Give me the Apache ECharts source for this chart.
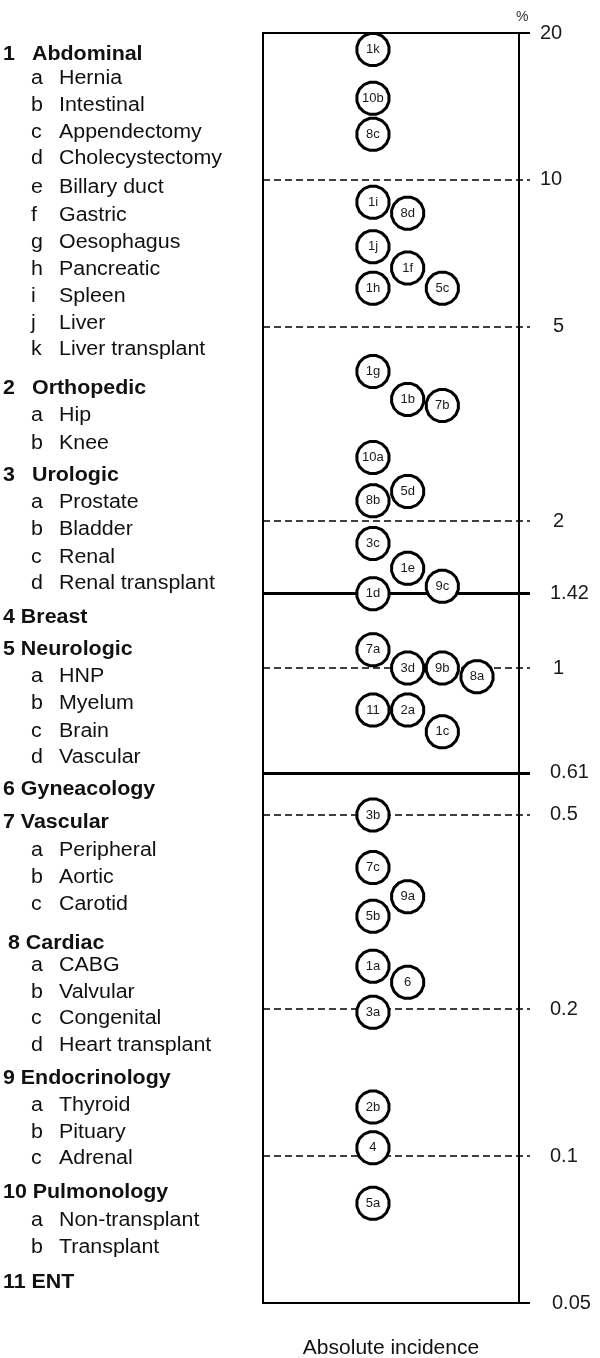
<!DOCTYPE html>
<html><head><meta charset="utf-8">
<script src="https://cdn.jsdelivr.net/npm/echarts@6/dist/echarts.min.js"></script>
<style>html,body{margin:0;padding:0;background:#fff}#c{width:600px;height:1358px}</style>
</head><body><div id="c"></div>
<script>
// ---- data ----
const markerLabels = ['1k','10b','8c','1i','8d','1j','1f','1h','5c','1g','1b','7b','10a','5d','8b','3c','1e','9c','1d','7a','3d','9b','8a','11','2a','1c','3b','7c','9a','5b','1a','6','3a','2b','4','5a'];
const markerValues = [18.5,14.7,12.4,9.0,8.55,7.3,6.6,6.0,6.0,4.05,3.55,3.45,2.7,2.3,2.2,1.8,1.6,1.47,1.42,1.09,1.0,1.0,0.96,0.82,0.82,0.74,0.5,0.39,0.34,0.31,0.245,0.227,0.197,0.126,0.104,0.080];
const markerColumns = [0,0,0,0,1,0,1,0,2,0,1,2,0,1,0,0,1,2,0,0,1,2,3,0,1,2,0,0,1,0,0,1,0,0,0,0];
const tickValues = [20,10,5,2,1.42,1,0.61,0.5,0.2,0.1,0.05];
const tickLabels = ['20','10','5','2','1.42','1','0.61','0.5','0.2','0.1','0.05'];
const groupNames = ['Abdominal','Orthopedic','Urologic','Breast','Neurologic','Gyneacology','Vascular','Cardiac','Endocrinology','Pulmonology','ENT'];
const groupItems = [
  ['Hernia','Intestinal','Appendectomy','Cholecystectomy','Billary duct','Gastric','Oesophagus','Pancreatic','Spleen','Liver','Liver transplant'],
  ['Hip','Knee'],
  ['Prostate','Bladder','Renal','Renal transplant'],
  [],
  ['HNP','Myelum','Brain','Vascular'],
  [],
  ['Peripheral','Aortic','Carotid'],
  ['CABG','Valvular','Congenital','Heart transplant'],
  ['Thyroid','Pituary','Adrenal'],
  ['Non-transplant','Transplant'],
  []
];

// ---- layout / styles (not data) ----
const rowY = [54,78,105,132,158,187,215,242,269,296,323,349, 388,415,443, 475,502,529,557,583, 617, 649,676,703,731,757, 789, 822,850,877,904, 943,965,992,1018,1045, 1078,1105,1132,1158, 1192,1220,1247, 1282];
const tickKind = ['edge','dash','dash','dash','solid','dash','solid','dash','dash','dash','edge'];
const tickLabelGap = [10,10,23,23,20,23,20,20,20,20,22];

const FONT = '"Liberation Sans", Arial, sans-serif';
const TXT = '#111';
const SX = 1.07;

// left list as graphic text
const graphics = [];
let r = 0;
groupNames.forEach((name, gi) => {
  const y = rowY[r++];
  const num = String(gi + 1);
  if (gi < 3) {
    graphics.push({type:'text', x:3, y:y, scaleX:SX, style:{text:num, font:'bold 20px '+FONT, fill:TXT, verticalAlign:'middle'}});
    graphics.push({type:'text', x:32, y:y, scaleX:SX, style:{text:name, font:'bold 20px '+FONT, fill:TXT, verticalAlign:'middle'}});
  } else {
    graphics.push({type:'text', x:(gi === 7 ? 8 : 3), y:y, scaleX:SX, style:{text:num + ' ' + name, font:'bold 20px '+FONT, fill:TXT, verticalAlign:'middle'}});
  }
  groupItems[gi].forEach((item, ii) => {
    const yy = rowY[r++];
    graphics.push({type:'text', x:31, y:yy, scaleX:SX, style:{text:String.fromCharCode(97 + ii), font:'20px '+FONT, fill:TXT, verticalAlign:'middle'}});
    graphics.push({type:'text', x:59, y:yy, scaleX:SX, style:{text:item, font:'20px '+FONT, fill:TXT, verticalAlign:'middle'}});
  });
});

const markLineData = tickValues.map((v, i) => {
  const k = tickKind[i];
  return {
    yAxis: v,
    lineStyle: k === 'dash' ? {type:[7,4], width:1.5, color:'#000'} : {type:'solid', width: k === 'solid' ? 3 : 2, color:'#000'},
    label: {show:true, position:'end', distance: tickLabelGap[i], formatter: tickLabels[i], fontSize:20, fontFamily:FONT, color:'#1a1a1a'}
  };
});

// rough 16-gon like the reference markers
const poly = (() => {
  const n = 16, pts = [];
  for (let i = 0; i < n; i++) {
    const a = (i + 0.5) / n * Math.PI * 2;
    pts.push((50 + 50 * Math.cos(a)).toFixed(2) + ' ' + (50 + 50 * Math.sin(a)).toFixed(2));
  }
  return 'path://M' + pts.join(' L') + ' Z';
})();

const chart = echarts.init(document.getElementById('c'), null, {renderer:'canvas'});
chart.setOption({
  animation: false,
  backgroundColor: '#fff',
  title: {text:'%', left:511, top:5, textStyle:{fontSize:14, fontWeight:'normal', fontFamily:FONT, color:'#333'}},
  graphic: graphics,
  grid: [
    {left:263, right:81, top:33, bottom:55, show:true, borderColor:'#000', borderWidth:2, backgroundColor:'transparent', outerBoundsMode:'none', containLabel:false},
    {left:263, right:70, top:33, bottom:55, outerBoundsMode:'none', containLabel:false}
  ],
  xAxis: [
    {gridIndex:0, type:'value', min:-3.17, max:4.21, axisLine:{show:false}, axisTick:{show:false}, axisLabel:{show:false}, splitLine:{show:false},
     name:'Absolute incidence', nameLocation:'middle', nameGap:35, nameTextStyle:{fontSize:21, fontFamily:FONT, color:'#111'}},
    {gridIndex:1, type:'value', min:0, max:1, show:false}
  ],
  yAxis: [
    {gridIndex:0, type:'log', logBase:10, min:0.05, max:20, axisLine:{show:false}, axisTick:{show:false}, axisLabel:{show:false}, splitLine:{show:false}},
    {gridIndex:1, type:'log', logBase:10, min:0.05, max:20, show:false}
  ],
  series: [
    {
      type:'scatter', xAxisIndex:1, yAxisIndex:1, data:[], z:1, silent:true,
      markLine:{symbol:'none', silent:true, animation:false, data:markLineData}
    },
    {
      type:'scatter', xAxisIndex:0, yAxisIndex:0, z:5, clip:false,
      symbol:poly, symbolSize:32,
      itemStyle:{color:'#fff', borderColor:'#000', borderWidth:3, opacity:1},
      label:{show:true, position:'inside', formatter:(p)=>p.value[2], fontSize:13, fontFamily:FONT, color:'#1a1a1a'},
      data: markerLabels.map((lab, i) => [markerColumns[i], markerValues[i], lab])
    }
  ]
});
</script>
</body></html>
